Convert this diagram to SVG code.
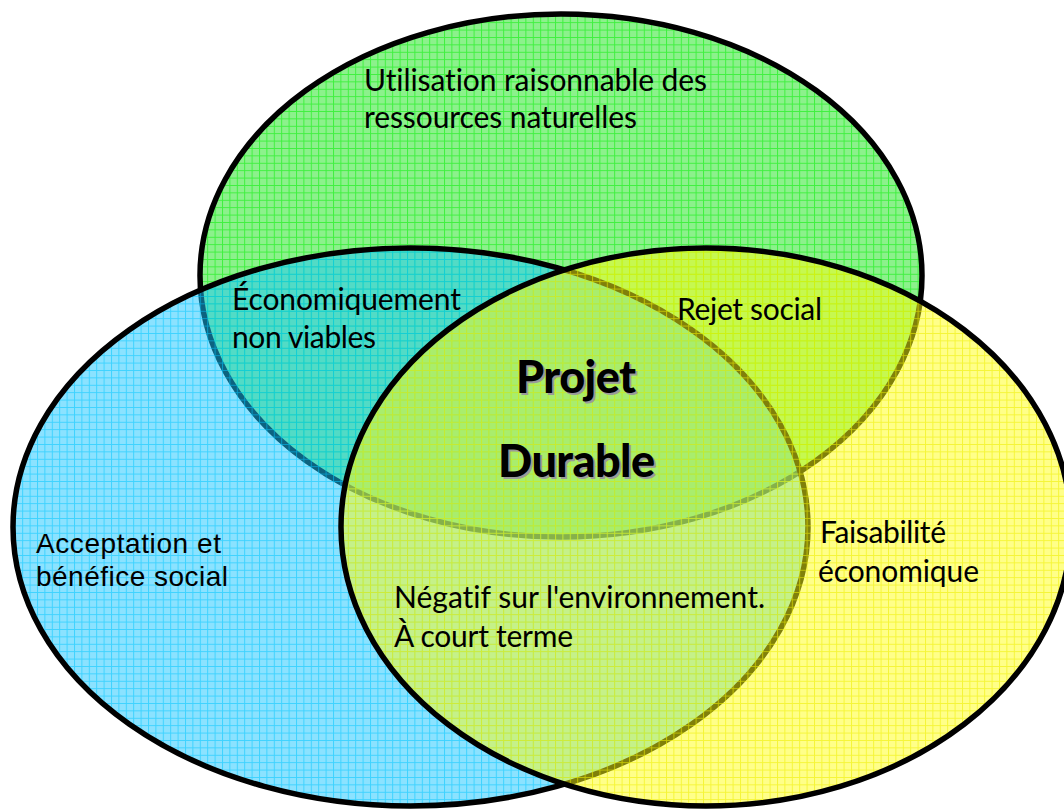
<svg xmlns="http://www.w3.org/2000/svg" width="1064" height="809" viewBox="0 0 1064 809">
  <defs>
    <!-- translucent grid-textured fills for the three sets -->
    <pattern id="gridGreen" patternUnits="userSpaceOnUse" width="7.4" height="7.4">
      <rect width="7.4" height="7.4" fill="#1ae41a" fill-opacity="0.5"/>
      <path d="M0 0.5H7.4M0.5 0V7.4" stroke="#00f000" stroke-opacity="0.55" stroke-width="1"/>
    </pattern>
    <pattern id="gridBlue" patternUnits="userSpaceOnUse" width="7.4" height="7.4">
      <rect width="7.4" height="7.4" fill="#18c6ff" fill-opacity="0.5"/>
      <path d="M0 0.5H7.4M0.5 0V7.4" stroke="#00c4ff" stroke-opacity="0.55" stroke-width="1"/>
    </pattern>
    <pattern id="gridYellow" patternUnits="userSpaceOnUse" width="7.4" height="7.4">
      <rect width="7.4" height="7.4" fill="#ffff14" fill-opacity="0.5"/>
      <path d="M0 0.5H7.4M0.5 0V7.4" stroke="#eeee00" stroke-opacity="0.6" stroke-width="1"/>
    </pattern>
  </defs>
  <style>
    .set { stroke: #000; stroke-width: 5.5; }
    .lbl { font-family: Lato, "Open Sans", "Liberation Sans", sans-serif; font-size: 30px; fill: #000; font-variant-ligatures: none; }
    .arial { font-family: "Liberation Sans", Arial, sans-serif; font-size: 28px; fill: #000; }
    .core { font-family: Lato, "Open Sans", "Liberation Sans", sans-serif; font-size: 45px; font-weight: 900; fill: #000; }
    .core-shadow { fill: #9a9a9a; }
  </style>

  <rect width="1064" height="809" fill="#fff"/>

  <!-- environmental set -->
  <g id="set-environment">
    <ellipse class="set" cx="561" cy="275.5" rx="361" ry="261.5" fill="url(#gridGreen)"/>
  </g>

  <!-- social set -->
  <g id="set-social">
    <ellipse class="set" cx="410.5" cy="527" rx="397.5" ry="279" fill="url(#gridBlue)"/>
  </g>

  <!-- economic set -->
  <g id="set-economic">
    <ellipse class="set" cx="706" cy="527" rx="365" ry="279" fill="url(#gridYellow)"/>
  </g>

  <g id="label-environment">
    <text class="lbl" x="364" y="91" textLength="343">Utilisation raisonnable des</text>
    <text class="lbl" x="364" y="128" textLength="273">ressources naturelles</text>
  </g>

  <g id="label-env-social">
    <text class="lbl" x="232" y="310" textLength="229">Économiquement</text>
    <text class="lbl" x="232" y="348" textLength="144">non viables</text>
  </g>

  <g id="label-social">
    <text class="arial" x="36" y="553" textLength="185">Acceptation et</text>
    <text class="arial" x="36" y="586" textLength="192">bénéfice social</text>
  </g>

  <g id="label-env-economic">
    <text class="lbl" x="677" y="320" textLength="145">Rejet social</text>
  </g>

  <g id="label-economic">
    <text class="lbl" x="820" y="543" textLength="126">Faisabilité</text>
    <text class="lbl" x="818" y="582" textLength="161">économique</text>
  </g>

  <g id="label-social-economic">
    <text class="lbl" x="394" y="608" textLength="371">Négatif sur l'environnement.</text>
    <text class="lbl" x="394" y="647" textLength="179">À court terme</text>
  </g>

  <g id="label-core">
    <text class="core core-shadow" x="518" y="395" textLength="120">Projet</text>
    <text class="core core-shadow" x="500" y="479" textLength="157">Durable</text>
    <text class="core" x="516" y="393" textLength="120">Projet</text>
    <text class="core" x="498" y="477" textLength="157">Durable</text>
  </g>
</svg>
